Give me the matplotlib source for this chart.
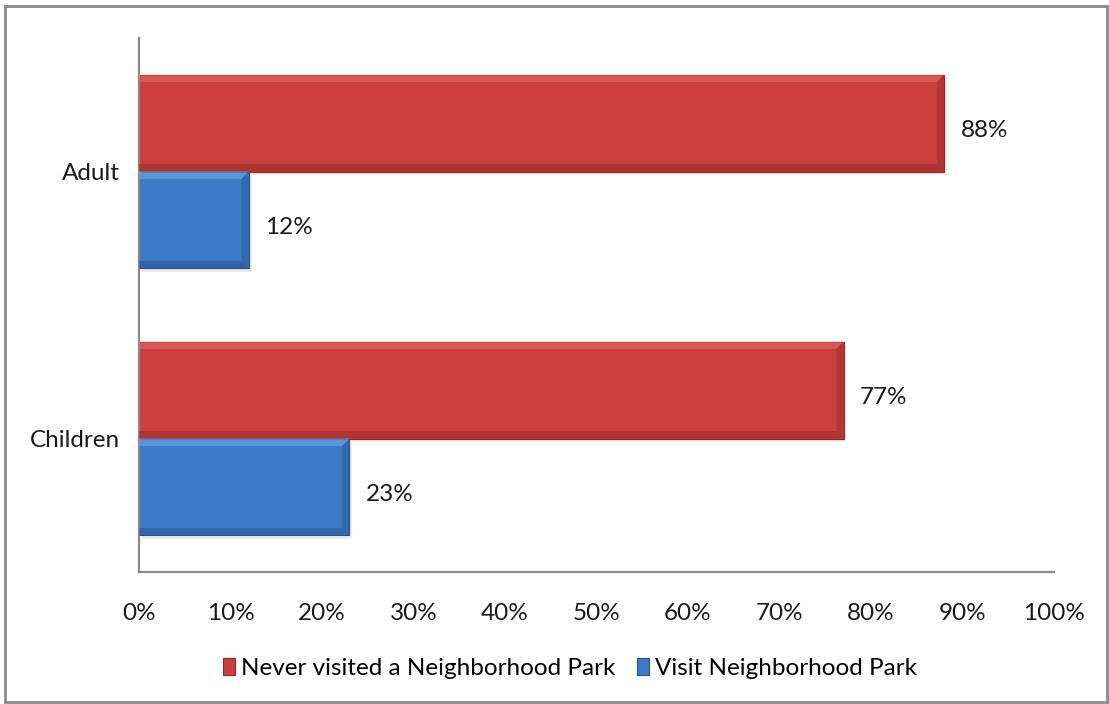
import matplotlib
matplotlib.use("Agg")
import matplotlib.pyplot as plt
from matplotlib.patches import Rectangle, Polygon
import numpy as np

plt.rcParams["font.family"] = ["Lato", "DejaVu Sans"]

categories = ["Children", "Adult"]
never_visited = [77, 88]
visit = [23, 12]
series_names = ["Never visited a Neighborhood Park", "Visit Neighborhood Park"]
x_ticks = [0, 10, 20, 30, 40, 50, 60, 70, 80, 90, 100]

red = "#CC3F3E"
red_light = "#E27272"
red_dark = "#8E2A29"
blue = "#3E7BC6"
blue_light = "#78AEEA"
blue_dark = "#27508A"
text_color = "#1a1a1a"
fs = 17.5

fig = plt.figure(figsize=(11.09, 7.04), dpi=100)
ax = fig.add_axes([0.1253, 0.1875, 0.8251, 0.7585])

y = np.arange(len(categories))
h = 0.363


def bevel(rect, light, dark, bx=0.8, by=0.028):
    x0, y0 = rect.get_x(), rect.get_y()
    w, hh = rect.get_width(), rect.get_height()
    x1, y1 = x0 + w, y0 + hh
    # top highlight
    ax.add_patch(Polygon([[x0, y1], [x1, y1], [x1 - bx, y1 - by], [x0, y1 - by]],
                         closed=True, facecolor=light, edgecolor="none", alpha=0.5, zorder=3))
    # right shade
    ax.add_patch(Polygon([[x1, y1], [x1, y0], [x1 - bx, y0 + by], [x1 - bx, y1 - by]],
                         closed=True, facecolor=dark, edgecolor="none", alpha=0.4, zorder=3))
    # bottom shade
    ax.add_patch(Polygon([[x0, y0], [x1, y0], [x1 - bx, y0 + by], [x0, y0 + by]],
                         closed=True, facecolor=dark, edgecolor="none", alpha=0.5, zorder=3))
    # soft shadow
    ax.add_patch(Rectangle((x0 + 0.3, y0 - 0.012), w, hh, facecolor="#000000",
                           alpha=0.08, edgecolor="none", zorder=1))


red_bars = ax.barh(y + h / 2, never_visited, height=h, color=red, edgecolor=red_dark,
                   linewidth=0.8, zorder=2, label=series_names[0])
blue_bars = ax.barh(y - h / 2, visit, height=h, color=blue, edgecolor=blue_dark,
                    linewidth=0.8, zorder=2, label=series_names[1])

for b in red_bars:
    bevel(b, red_light, red_dark)
for b in blue_bars:
    bevel(b, blue_light, blue_dark)

for bars, vals in ((red_bars, never_visited), (blue_bars, visit)):
    for b, v in zip(bars, vals):
        ax.text(v + 1.8, b.get_y() + b.get_height() / 2 - 0.027, f"{v}%", va="center",
                ha="left", fontsize=fs, color=text_color)

ax.set_xlim(0, 100)
ax.set_ylim(-0.5, 1.5)
ax.set_xticks(x_ticks)
ax.set_xticklabels([f"{t}%" for t in x_ticks], fontsize=fs, color=text_color)
ax.set_yticks(y)
ax.set_yticklabels(categories, fontsize=fs, color=text_color)
ax.tick_params(axis="x", length=0, pad=22)
ax.tick_params(axis="y", length=0, pad=14)

for s in ("top", "right"):
    ax.spines[s].set_visible(False)
for s in ("left", "bottom"):
    ax.spines[s].set_color("#8a8a8a")
    ax.spines[s].set_linewidth(1.6)

leg = fig.legend(handles=[red_bars, blue_bars], labels=series_names, loc="center",
                 bbox_to_anchor=(0.514, 0.051), ncol=2, frameon=False, fontsize=fs,
                 handlelength=0.5, handleheight=0.7, handletextpad=0.25, columnspacing=0.9)

fig.patches.append(Rectangle((0.0045, 0.003), 0.9935, 0.989, transform=fig.transFigure,
                             fill=False, edgecolor="#8a8a8a", linewidth=2.0))

fig.savefig("out.png", dpi=100, facecolor="white")
